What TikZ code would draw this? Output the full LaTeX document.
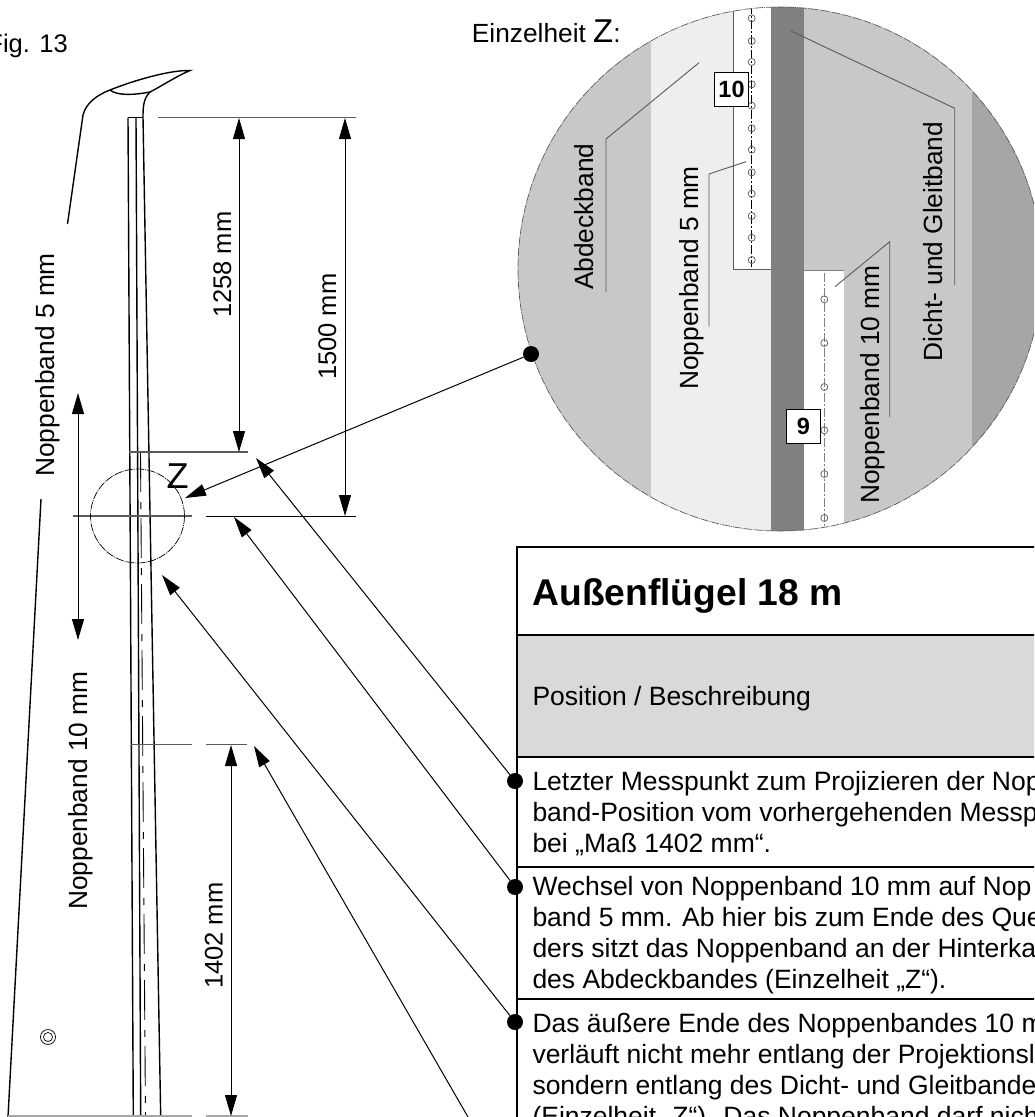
\documentclass[tikz,border=0pt]{standalone}
\usepackage{fontspec}
\setmainfont{Liberation Sans}
\usetikzlibrary{arrows.meta}
\definecolor{bandGray}{HTML}{C8C8C8}
\definecolor{bandLight}{HTML}{EEEEEE}
\definecolor{bandDark}{HTML}{808080}
\definecolor{bandMid}{HTML}{A6A6A6}
\definecolor{headGray}{HTML}{D9D9D9}
\definecolor{dimGray}{HTML}{5A5A5A}
\newcommand{\picWidth}{1034}
\newcommand{\picHeight}{1117}
\newcommand{\detailRadius}{262}
\newcommand{\tableLeft}{516.7}
\newcommand{\tableRight}{1045}
\newcommand{\textLeft}{532.3}
\tikzset{
  wingline/.style={line width=1.4pt},
  dimline/.style={line width=1.3pt,draw=dimGray},
  dimarrow/.style={line width=1pt,{Triangle[length=21pt,width=12pt]}-{Triangle[length=21pt,width=12pt]}},
  leadarrow/.style={line width=1pt,-{Triangle[length=21pt,width=12pt]}},
  leader/.style={line width=0.9pt,draw=dimGray},
  tablerule/.style={line width=2pt},
  dotmark/.style={circle,fill=black,inner sep=0pt,minimum size=16pt},
  numbox/.style={draw,line width=1.6pt,fill=white,inner sep=0pt,minimum size=34pt,font=\fontsize{23.5}{24}\selectfont\bfseries},
  vlabel/.style={rotate=90,anchor=base west,inner sep=0pt,font=\fontsize{26.3}{30}\selectfont},
  dimlabel/.style={rotate=90,anchor=base west,inner sep=0pt,font=\fontsize{25.5}{30}\selectfont},
  celltext/.style={anchor=north west,inner sep=0pt,align=left,font=\fontsize{26.5}{31}\selectfont},
  noppe/.style={line width=0.7pt},
}
\begin{document}
\begin{tikzpicture}[x=1pt,y=-1pt]
\useasboundingbox (0,0) rectangle (\picWidth,\picHeight);
\clip (0,0) rectangle (\picWidth,\picHeight);

% detail circle
\begin{scope}
  \clip (780,269) circle (\detailRadius);
  \fill[bandGray] (510,0) rectangle (651,540);
  \fill[bandLight] (651,0) rectangle (771,540);
  \fill[bandDark] (771,0) rectangle (804,540);
  \fill[bandGray] (804,0) rectangle (972,540);
  \fill[bandMid] (972,0) rectangle (1050,540);
  \fill[white] (733,0) rectangle (771,269);
  \fill[white] (804,270) rectangle (844,540);
  \draw[dimGray,line width=0.9pt] (733,0) -- (733,269) -- (771,269);
  \draw[bandDark,line width=0.9pt] (804,270) -- (844,270);
  \draw[noppe,dash pattern=on 9pt off 2pt on 2pt off 2pt] (751.7,5) -- (751.7,267);
  \draw[noppe,bandDark,dash pattern=on 9pt off 2pt on 2pt off 2pt] (824.3,273) -- (824.3,531);
  \foreach \dotY in {18.3,41,62,84.3,105.7,128.3,149.7,172.3,193.7,216,237.7,260}
    \draw[noppe,dimGray] (751.7,\dotY) circle (3.5);
  \foreach \dotY in {299.3,343,387,430.3,474,518}
    \draw[noppe,dimGray] (824.3,\dotY) circle (3.5);
\end{scope}
\draw[line width=0.7pt,dimGray,dash pattern=on 8pt off 1pt on 1pt off 1pt] (780,269) circle (\detailRadius);

\node[numbox] (box10) at (731.5,89.3) {10};
\node[numbox] (box9) at (803.5,426.5) {9};

\draw[leader] (699,62.7) -- (606,139) -- (606,292);
\draw[leader] (746,161.7) -- (709,174) -- (709,326.7);
\draw[leader] (835,286.7) -- (889.7,241.7) -- (889.7,417);
\draw[leader] (791,31) -- (954.7,108.3) -- (954.7,285);

\node[vlabel] (lblAbdeck) at (593,290) {Abdeckband};
\node[vlabel] (lblFive) at (698,390) {Noppenband 5 mm};
\node[vlabel] (lblTen) at (879,504) {Noppenband 10 mm};
\node[vlabel] (lblDicht) at (942.7,361.7) {Dicht- und Gleitband};

\node[anchor=base west,inner sep=0pt,font=\fontsize{26.3}{30}\selectfont] (lblDetail) at (471.7,42.7) {Einzelheit {\fontsize{33}{30}\selectfont Z}:};
\node[anchor=base east,inner sep=0pt,font=\fontsize{25.5}{30}\selectfont] (lblFig) at (68,52) {Fig. 13};

% wing
\draw[wingline] (67.5,224) -- (83,115) .. controls (86,103) and (97,95) .. (110,90)
  .. controls (135,80) and (170,70) .. (190,70.5)
  .. controls (175,77) and (160,87) .. (150,92)
  .. controls (144,98) and (143,105) .. (143,117) -- (160.7,1117);
\draw[wingline] (110,90) .. controls (117,96) and (135,95) .. (150,92);
\draw[wingline] (41,499) -- (8,1117);
\draw[line width=0.9pt] (128,117.5) -- (143,117.5);
\draw[wingline] (128,117.5) -- (133.3,1117);
\draw[wingline] (136,117.5) -- (140.7,1117);
\draw[line width=0.9pt,dash pattern=on 40pt off 10pt on 7pt off 9pt] (140.5,452) -- (145.5,1117);
\draw[line width=0.7pt] (48,1037) circle (7.5);
\draw[line width=0.7pt] (48,1037) circle (4.5);

% dimensions
\draw[dimline] (158,117.5) -- (356,117.5);
\draw[dimline] (129,452) -- (248,452);
\draw[dimline] (73,516) -- (192,516);
\draw[line width=1pt] (206,516) -- (356,516);
\draw[dimline] (131,744.5) -- (192,744.5);
\draw[dimline] (206,744.5) -- (247,744.5);
\draw[bandMid,line width=1.2pt] (8,1116) -- (192,1116);
\draw[bandMid,line width=1.2pt] (206,1116) -- (248,1116);
\draw[dimarrow] (239,118) -- (239,452);
\draw[dimarrow] (345,118) -- (345,516);
\draw[dimarrow] (231,745) -- (231,1116);
\draw[dimarrow] (78,393) -- (78,640);

\draw[line width=0.7pt,dash pattern=on 8pt off 1pt on 1pt off 1pt] (137.5,516) circle (47);
\node[anchor=base,inner sep=0pt,font=\fontsize{36}{40}\selectfont] (lblZ) at (177.5,488) {Z};

\node[vlabel] (lblWingFive) at (54.5,477) {Noppenband 5 mm};
\node[vlabel] (lblWingTen) at (87,910) {Noppenband 10 mm};
\node[dimlabel] (lblA) at (231,318) {1258 mm};
\node[dimlabel] (lblB) at (336,380) {1500 mm};
\node[dimlabel] (lblC) at (222.7,989) {1402 mm};

% table
\fill[headGray] (\tableLeft,635) rectangle (\tableRight,757);
\draw[tablerule] (\tableRight,547) -- (\tableLeft,547) -- (\tableLeft,1125);
\draw[tablerule] (\tableLeft,635) -- (\tableRight,635);
\draw[tablerule] (\tableLeft,757) -- (\tableRight,757);
\draw[tablerule] (\tableLeft,867) -- (\tableRight,867);
\draw[tablerule] (\tableLeft,999) -- (\tableRight,999);

\node[anchor=base west,inner sep=0pt,font=\fontsize{37.2}{40}\selectfont\bfseries] (cellTitle) at (\textLeft,605) {Außenflügel 18 m};
\node[anchor=base west,inner sep=0pt,font=\fontsize{26.5}{30}\selectfont] (cellHead) at (\textLeft,705.7) {Position / Beschreibung};
\node[celltext] (cellOne) at (\textLeft,771.5) {Letzter Messpunkt zum Projizieren der Nop\\band-Position vom vorhergehenden Messp\\bei „Maß 1402 mm“.};
\node[celltext] (cellTwo) at (\textLeft,876.5) {Wechsel von Noppenband 10 mm auf Nop\\band 5 mm. Ab hier bis zum Ende des Que\\ders sitzt das Noppenband an der Hinterka\\des Abdeckbandes (Einzelheit „Z“).};
\node[celltext] (cellThree) at (\textLeft,1013) {Das äußere Ende des Noppenbandes 10 m\\verläuft nicht mehr entlang der Projektionsl\\sondern entlang des Dicht- und Gleitbande\\(Einzelheit „Z“). Das Noppenband darf nich};

% callouts
\node[dotmark] (dotDetail) at (531,354) {};
\node[dotmark] (dotOne) at (515,781) {};
\node[dotmark] (dotTwo) at (515,887) {};
\node[dotmark] (dotThree) at (515,1022) {};
\coordinate (tipDetail) at (185,498);
\coordinate (tipOne) at (256,458);
\coordinate (tipTwo) at (234,517);
\coordinate (tipThree) at (162,575);
\coordinate (tipFour) at (254,746);
\coordinate (endFour) at (468,1117);
\draw[leadarrow] (dotDetail) -- (tipDetail);
\draw[leadarrow] (dotOne) -- (tipOne);
\draw[leadarrow] (dotTwo) -- (tipTwo);
\draw[leadarrow] (dotThree) -- (tipThree);
\draw[leadarrow] (endFour) -- (tipFour);
\end{tikzpicture}
\end{document}
